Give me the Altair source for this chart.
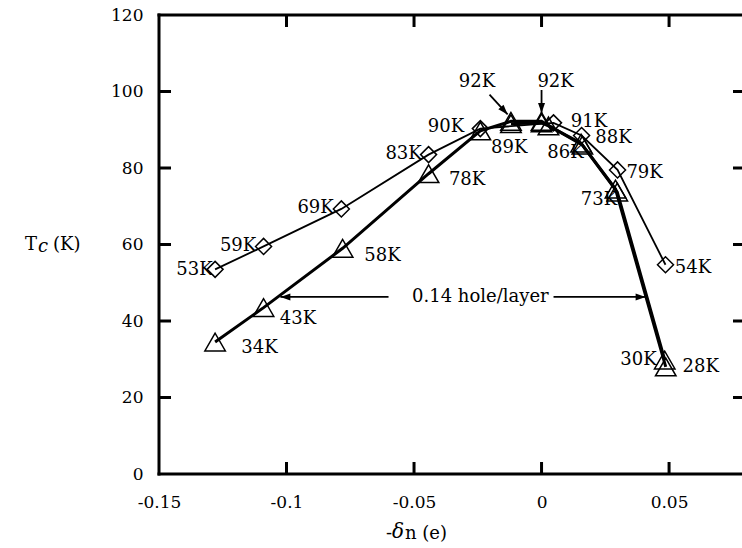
import altair as alt
import pandas as pd

# ---------------- data ----------------
# diamond series (thin line)
dia_x = [-0.128, -0.109, -0.0785, -0.0443, -0.024, 0.0047, 0.0157, 0.0298, 0.0486]
dia_t = [53.5, 59.5, 69.3, 83.5, 90.3, 91.8, 88.5, 79.5, 54.7]
dia_lab = ["53K", "59K", "69K", "83K", "90K", "91K", "88K", "79K", "54K"]
dia_lab_x = [-0.1361, -0.1190, -0.0886, -0.0541, -0.0375, 0.0186, 0.0282, 0.0404, 0.0594]
dia_lab_t = [53.3, 59.6, 69.5, 83.7, 90.7, 92.0, 87.8, 78.7, 53.9]

# triangle series (thick lines)
triA_x = [-0.128, -0.109, -0.078, -0.0443, -0.024, -0.012, 0.0, 0.016, 0.0297, 0.0483]
triA_t = [34.5, 43.5, 59.0, 78.5, 89.7, 92.2, 92.2, 86.0, 73.7, 29.8]
triB_x = [-0.012, 0.0, 0.0027, 0.0155, 0.029, 0.0487]
triB_t = [91.6, 91.8, 91.0, 86.5, 74.5, 28.0]

tri_lab = ["34K", "43K", "58K", "78K", "89K", "92K", "92K", "86K", "73K", "30K", "28K"]
tri_lab_x = [-0.1106, -0.0955, -0.0624, -0.0292, -0.0127, -0.0253, 0.0055, 0.0094, 0.0225, 0.0380, 0.0624]
tri_lab_t = [32.9, 40.5, 57.0, 76.9, 85.2, 102.5, 102.5, 83.9, 71.6, 29.8, 28.0]

# annotation arrows
arr_x = [-0.0204, 0.0, -0.060, 0.0047]
arr_t = [99.2, 100.4, 46.3, 46.3]
arr_x2 = [-0.0133, 0.0, -0.1024, 0.0408]
arr_t2 = [94.0, 94.4, 46.3, 46.3]
arr_ang = [138, 180, 270, 90]

note_text = ["0.14 hole/layer"]
note_x = [-0.024]
note_t = [46.3]

x_ticks = [-0.15, -0.1, -0.05, 0, 0.05]
y_ticks = [0, 20, 40, 60, 80, 100, 120]

# ---------------- layout ----------------
W = 583
H = 459
FONT = "DejaVu Serif"
FS = 18

xs = alt.Scale(domain=[-0.15, 0.0786], nice=False, zero=False)
ys = alt.Scale(domain=[0, 120], nice=False, zero=False)

x_axis = alt.Axis(values=x_ticks, labelExpr="toString(datum.value)", domain=False, ticks=False,
                  grid=False, labelPadding=20, title=None, labelFont=FONT, labelFontSize=17,
                  labelColor="black", labelFlush=False, labelOverlap=False)
y_axis = alt.Axis(values=y_ticks, domain=False, ticks=False, grid=False, labelPadding=16,
                  title=None, labelFont=FONT, labelFontSize=17, labelColor="black",
                  labelFlush=False, labelOverlap=False)


def X(f):
    return alt.X(f, type="quantitative", scale=xs, axis=x_axis)


def Y(f):
    return alt.Y(f, type="quantitative", scale=ys, axis=y_axis)


df_dia = pd.DataFrame({"x": dia_x, "t": dia_t})
df_ta = pd.DataFrame({"x": triA_x, "t": triA_t})
df_tb = pd.DataFrame({"x": triB_x, "t": triB_t})
df_tri = pd.concat([df_ta, df_tb], ignore_index=True)
df_lab = pd.DataFrame({"x": dia_lab_x + tri_lab_x, "t": dia_lab_t + tri_lab_t,
                       "lab": dia_lab + tri_lab})
df_arr = pd.DataFrame({"x": arr_x, "t": arr_t, "x2": arr_x2, "t2": arr_t2, "a": arr_ang})
df_note = pd.DataFrame({"x": note_x, "t": note_t, "lab": note_text})
one = pd.DataFrame({"k": [0]})
df_xt = pd.DataFrame({"x": x_ticks[1:]})
df_yt = pd.DataFrame({"t": y_ticks[1:-1]})

frame_kw = dict(strokeWidth=3, color="black", strokeCap="square")
left = alt.Chart(one).mark_rule(**frame_kw).encode(x=alt.value(0), y=alt.value(0), y2=alt.value(H))
bottom = alt.Chart(one).mark_rule(**frame_kw).encode(x=alt.value(0), x2=alt.value(W), y=alt.value(H))
top = alt.Chart(one).mark_rule(**frame_kw).encode(x=alt.value(0), x2=alt.value(W), y=alt.value(0))

tick_kw = dict(strokeWidth=3, color="black")
xt_bot = alt.Chart(df_xt).mark_rule(**tick_kw).encode(x=X("x"), y=alt.value(H), y2=alt.value(H - 12))
xt_top = alt.Chart(df_xt).mark_rule(**tick_kw).encode(x=X("x"), y=alt.value(0), y2=alt.value(12))
yt_left = alt.Chart(df_yt).mark_rule(**tick_kw).encode(y=Y("t"), x=alt.value(0), x2=alt.value(12))
yt_right = alt.Chart(df_yt).mark_rule(**tick_kw).encode(y=Y("t"), x=alt.value(W - 9), x2=alt.value(W))

line_dia = alt.Chart(df_dia).mark_line(color="black", strokeWidth=1.8).encode(x=X("x"), y=Y("t"))
line_ta = alt.Chart(df_ta).mark_line(color="black", strokeWidth=3).encode(x=X("x"), y=Y("t"))
line_tb = alt.Chart(df_tb).mark_line(color="black", strokeWidth=3).encode(x=X("x"), y=Y("t"))

pts_dia = alt.Chart(df_dia).mark_point(shape="diamond", size=256, filled=False, color="black",
                                       strokeWidth=1.5, opacity=1).encode(x=X("x"), y=Y("t"))
pts_tri = alt.Chart(df_tri).mark_point(shape="triangle-up", size=420, filled=False, color="black",
                                       strokeWidth=1.5, opacity=1).encode(x=X("x"), y=Y("t"))

labels = alt.Chart(df_lab).mark_text(font=FONT, fontSize=FS, color="black", align="center",
                                     baseline="middle").encode(x=X("x"), y=Y("t"), text="lab:N")
note = alt.Chart(df_note).mark_text(font=FONT, fontSize=FS, color="black", align="center",
                                    baseline="middle").encode(x=X("x"), y=Y("t"), text="lab:N")

arrows = alt.Chart(df_arr).mark_rule(color="black", strokeWidth=1.8).encode(
    x=X("x"), y=Y("t"), x2="x2:Q", y2="t2:Q")
heads = alt.Chart(df_arr).mark_point(shape="M0,0L0.35,1L-0.35,1Z", size=400, filled=True,
                                     color="black", opacity=1, strokeWidth=0).encode(
    x=X("x2"), y=Y("t2"), angle=alt.Angle("a:Q", scale=None))

txt_kw = dict(font=FONT, fontSize=FS, color="black", align="left", baseline="middle")
yt1 = alt.Chart(one).mark_text(text="T", **txt_kw).encode(x=alt.value(25 - 159), y=alt.value(245 - 15))
yt2 = alt.Chart(one).mark_text(text="c", fontStyle="italic", **txt_kw).encode(
    x=alt.value(38 - 159), y=alt.value(247 - 15))
yt3 = alt.Chart(one).mark_text(text="(K)", **txt_kw).encode(x=alt.value(53 - 159), y=alt.value(245 - 15))
xt1 = alt.Chart(one).mark_text(text="-", **txt_kw).encode(x=alt.value(386 - 159), y=alt.value(534 - 15))
xt2 = alt.Chart(one).mark_text(text="δ", fontStyle="italic", fontSize=20, **{k: v for k, v in txt_kw.items() if k != "fontSize"}).encode(
    x=alt.value(392 - 159), y=alt.value(532 - 15))
xt3 = alt.Chart(one).mark_text(text="n (e)", **txt_kw).encode(x=alt.value(405 - 159), y=alt.value(534 - 15))

chart = alt.layer(
    pts_dia, pts_tri, line_dia, line_ta, line_tb, labels, note, arrows, heads,
    xt_bot, xt_top, yt_left, yt_right, left, bottom, top,
    yt1, yt2, yt3, xt1, xt2, xt3,
).properties(
    width=W, height=H, autosize="none",
    padding={"left": 159, "top": 15, "right": 0, "bottom": 74},
).configure_view(stroke=None).configure(background="white")

chart.save("out.html", embed_options={"renderer": "svg", "actions": False})
